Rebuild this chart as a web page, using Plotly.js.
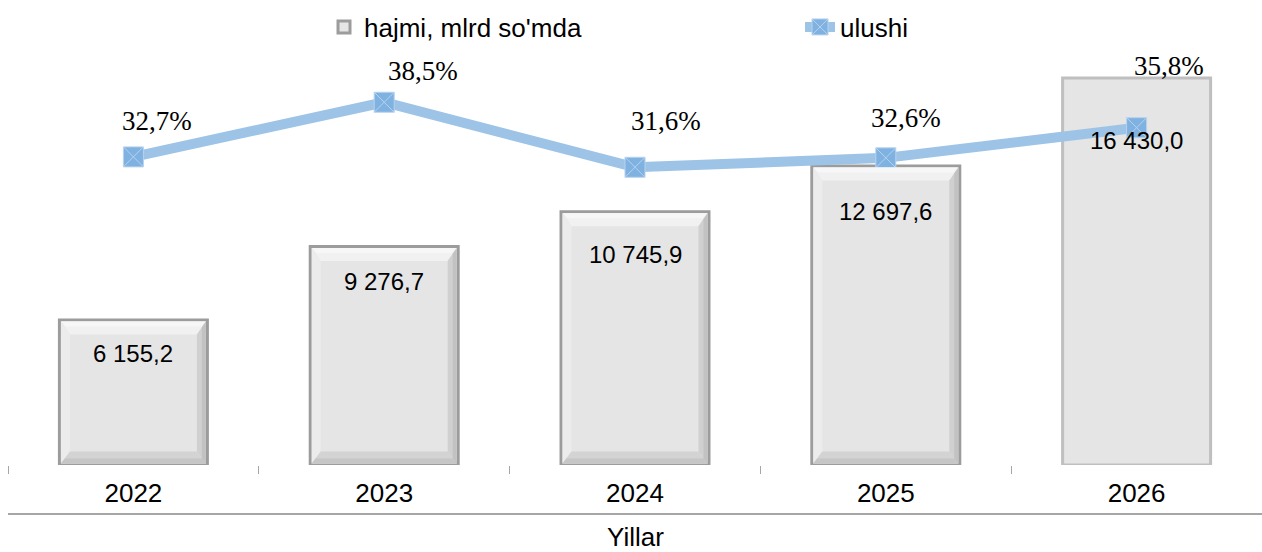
<!DOCTYPE html>
<html>
<head>
<meta charset="utf-8">
<script src="https://cdn.plot.ly/plotly-3.0.1.min.js"></script>
<style>
html,body{margin:0;padding:0;background:#fff;overflow:hidden;}
#chart{width:1262px;height:552px;}
</style>
</head>
<body>
<div id="chart"></div>
<script>
// ---- data ----
const years = ['2022', '2023', '2024', '2025', '2026'];
const volume = [6155.2, 9276.7, 10745.9, 12697.6, 16430.0];
const share = [32.7, 38.5, 31.6, 32.6, 35.8];
const seriesNames = ['hajmi, mlrd so\'mda', 'ulushi'];
const axisTitle = 'Yillar';

// ---- formatting helpers ----
function fmtNum(v) {
  const parts = v.toFixed(1).split('.');
  const intPart = parts[0].replace(/\B(?=(\d{3})+(?!\d))/g, ' ');
  return intPart + ',' + parts[1];
}
function fmtPct(v) { return v.toFixed(1).replace('.', ',') + '%'; }

// ---- style ----
const W = 1262, H = 552;
const M = { l: 8, r: 0, t: 41, b: 87 };
const yMax = 18000, y2Max = 45, barGap = 0.41;
const barLabelDrop = [33, 35, 43, 46, 63];
const pctShiftX = [24, 39, 31, 20, 32];
const pctShiftY = [36, 31, 46, 40, 62];
const beveled = [true, true, true, true, false];
const barLineColors = beveled.map(b => b ? '#9C9C9C' : '#BFBFBF');
const sansFont = 'Liberation Sans, Arial, sans-serif';
const serifFont = 'Liberation Serif, Times New Roman, serif';

const barTrace = {
  type: 'bar',
  name: seriesNames[0],
  x: years,
  y: volume,
  legend: 'legend',
  marker: { color: '#E5E5E5', line: { color: barLineColors, width: 3 } },
  hoverinfo: 'skip'
};
const lineTrace = {
  type: 'scatter',
  mode: 'lines+markers',
  name: seriesNames[1],
  x: years,
  y: share,
  yaxis: 'y2',
  legend: 'legend2',
  line: { color: '#9DC3E6', width: 10 },
  marker: { symbol: 'square-x', size: 20, color: '#7FB1E1', line: { color: '#B7D3EE', width: 1 } },
  hoverinfo: 'skip'
};

// bevel decoration (pixel sizes converted to data units of the axes)
const plotW = W - M.l - M.r, plotH = H - M.t - M.b;
const catPx = plotW / years.length;
const pxX = px => px / catPx;
const pxY = px => px * yMax / plotH;
const half = (1 - barGap) / 2;
const shapes = [];
function poly(pts, color) {
  return {
    type: 'path', xref: 'x', yref: 'y', layer: 'above',
    path: 'M' + pts.map(p => p[0] + ',' + p[1]).join('L') + 'Z',
    fillcolor: color, line: { width: 0 }
  };
}
for (let i = 0; i < years.length; i++) {
  if (!beveled[i]) continue;
  const o = pxX(1.5), ov = pxY(1.5);
  const L = i - half + o, R = i + half - o, T = volume[i] - ov, B = ov;
  // outer bands
  const bl = pxX(9), br = pxX(9), bt = pxY(13), bb = pxY(12);
  shapes.push(poly([[L, T], [R, T], [R - br, T - bt], [L + bl, T - bt]], '#F1F1F1'));
  shapes.push(poly([[L, T], [L + bl, T - bt], [L + bl, B + bb], [L, B]], '#ECECEC'));
  shapes.push(poly([[R, T], [R - br, T - bt], [R - br, B + bb], [R, B]], '#D0D0D0'));
  shapes.push(poly([[L, B], [L + bl, B + bb], [R - br, B + bb], [R, B]], '#D3D3D3'));
  // inner softer edge of right and bottom bands
  const hl = pxX(4), hb = pxY(5);
  shapes.push(poly([[R, T], [R - hl, T - pxY(6)], [R - hl, B + pxY(5)], [R, B]], '#C2C2C2'));
  shapes.push(poly([[L, B], [L + pxX(4), B + hb], [R - hl, B + hb], [R, B]], '#C6C6C6'));
  shapes.push(poly([[L, T], [R, T], [R - pxX(5), T - pxY(5)], [L + pxX(5), T - pxY(5)]], '#F7F7F7'));
}
shapes.push({
  type: 'line', xref: 'paper', yref: 'paper', x0: 0, x1: 1, y0: -0.1156, y1: -0.1156,
  line: { color: '#A6A6A6', width: 2 }
});

const annotations = [];
for (let i = 0; i < years.length; i++) {
  annotations.push({
    x: i, y: volume[i], xref: 'x', yref: 'y',
    text: fmtNum(volume[i]), showarrow: false,
    yanchor: 'middle', xanchor: 'center', yshift: -barLabelDrop[i],
    font: { family: sansFont, size: 24, color: '#000000' }
  });
  annotations.push({
    x: i, y: share[i], xref: 'x', yref: 'y2',
    text: fmtPct(share[i]), showarrow: false,
    yanchor: 'middle', xanchor: 'center', xshift: pctShiftX[i], yshift: pctShiftY[i],
    font: { family: serifFont, size: 27, color: '#000000' }
  });
}
annotations.push({
  x: 0.5, y: -0.170, xref: 'paper', yref: 'paper',
  text: axisTitle, showarrow: false, xanchor: 'center', yanchor: 'middle',
  font: { family: sansFont, size: 26, color: '#000000' }
});

const legendFont = { family: sansFont, size: 26, color: '#000000' };
const layout = {
  width: W, height: H,
  margin: { l: M.l, r: M.r, t: M.t, b: M.b, autoexpand: false },
  paper_bgcolor: '#fff', plot_bgcolor: '#fff',
  showlegend: true,
  legend: {
    orientation: 'h', x: 0.252, xanchor: 'left', y: 1.033, yanchor: 'middle',
    font: legendFont, bgcolor: 'rgba(0,0,0,0)'
  },
  legend2: {
    orientation: 'h', x: 0.6316, xanchor: 'left', y: 1.033, yanchor: 'middle',
    font: legendFont, bgcolor: 'rgba(0,0,0,0)'
  },
  bargap: barGap,
  xaxis: {
    type: 'category', range: [-0.5, 4.5],
    tickson: 'boundaries', ticks: 'outside', ticklen: 8, tickcolor: '#A6A6A6', tickwidth: 1,
    ticklabelstandoff: 10,
    showline: false, showgrid: false, zeroline: false,
    tickfont: { family: sansFont, size: 26, color: '#000000' },
    fixedrange: true
  },
  yaxis: { range: [0, yMax], visible: false, fixedrange: true },
  yaxis2: { range: [0, y2Max], overlaying: 'y', side: 'right', visible: false, fixedrange: true },
  shapes: shapes,
  annotations: annotations
};

Plotly.newPlot('chart', [barTrace, lineTrace], layout, { displayModeBar: false, staticPlot: true });
</script>
</body>
</html>
